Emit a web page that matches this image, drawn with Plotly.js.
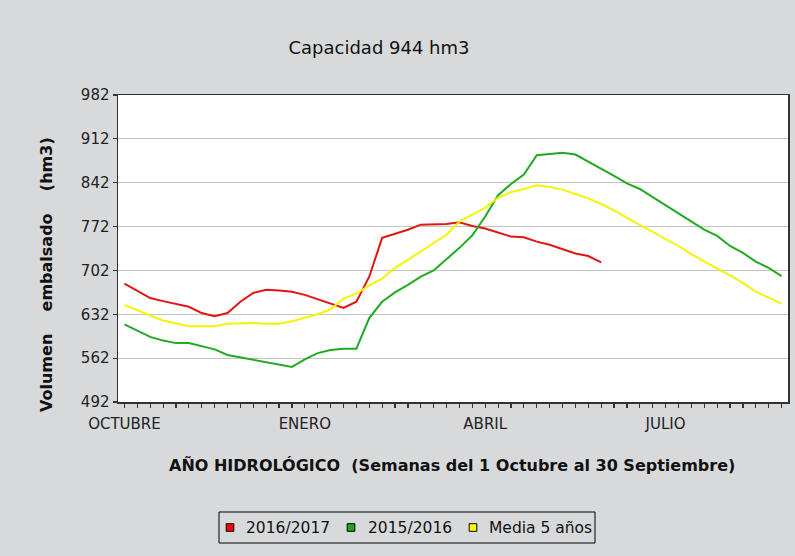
<!DOCTYPE html>
<html>
<head>
<meta charset="utf-8">
<script src="https://cdn.plot.ly/plotly-3.0.1.min.js"></script>
<style>
  html, body { margin: 0; padding: 0; background: #d8d9db; }
  #chart { width: 795px; height: 556px; }
</style>
</head>
<body>
<div id="chart"></div>
<script>
// Week numbers of the hydrological year (1 Oct - 30 Sep)
const semanas = [1,2,3,4,5,6,7,8,9,10,11,12,13,14,15,16,17,18,19,20,21,22,23,24,25,26,
                 27,28,29,30,31,32,33,34,35,36,37,38,39,40,41,42,43,44,45,46,47,48,49,50,51,52];

const serie2016_2017 = [681,669,658,653,648,644,634,629,634,652,666,671,670,668,663,656,650,642,652,692,
                        754,760,767,775,775,776,779,773,769,762,756,755,748,743,736,729,725,715];

const serie2015_2016 = [616,606,596,590,586,586,581,576,567,563,560,555,551,548,560,570,575,577,577,626,
                        652,667,679,692,702,720,738,758,788,822,840,855,886,888,890,887,876,865,853,841,
                        832,819,806,794,780,767,757,741,730,716,706,693];

const media5 = [647,638,630,622,617,613,613,613,617,618,618,617,617,621,627,632,640,657,665,678,
                689,706,719,732,745,759,780,791,802,818,827,832,838,835,831,824,817,808,798,786,
                775,763,752,741,728,716,705,694,682,668,658,649];

const mesLabels = ["OCTUBRE","ENERO","ABRIL","JULIO"];
const mesSemanas = [1,15,29,43];

const yTicks = [492,562,632,702,772,842,912,982];

const seriesNames = ["2016/2017","2015/2016","Media 5 años"];
const seriesColors = ["#e31414","#22aa22","#f4f400"];
const legendColors = ["#ff0000","#1aaa1a","#ffff00"];

const tickText = semanas.map(w => {
  const k = mesSemanas.indexOf(w);
  return k >= 0 ? mesLabels[k] : "";
});

const dataSeries = [serie2016_2017, serie2015_2016, media5];
const traces = dataSeries.map((vals, i) => ({
  x: semanas.slice(0, vals.length),
  y: vals,
  type: "scatter",
  mode: "lines",
  name: seriesNames[i],
  line: { color: seriesColors[i], width: 2 },
  showlegend: false
}));

const L = 118, R = 7, T = 95, B = 154;
const W = 795, H = 556;
const pw = W - L - R, ph = H - T - B;
const px2x = p => (p - L) / pw;
const px2y = p => (H - B - p) / ph;

const font = "DejaVu Sans, Verdana, sans-serif";

// Manual legend (box, square swatches, labels)
const legBox = { x0: 219, x1: 595, y0: 512, y1: 543 };
const legSquareX = [230, 351, 473];
const legTextX = [245, 367, 488];
const legY = 527.5;
const sq = 3.8;

const shapes = [{
  type: "rect", xref: "paper", yref: "paper",
  x0: px2x(legBox.x0), x1: px2x(legBox.x1),
  y0: px2y(legBox.y0), y1: px2y(legBox.y1),
  line: { color: "#000", width: 1 }, fillcolor: "rgba(0,0,0,0)", layer: "above"
}];
seriesNames.forEach((n, i) => {
  shapes.push({
    type: "rect", xref: "paper", yref: "paper",
    x0: px2x(legSquareX[i] - sq), x1: px2x(legSquareX[i] + sq),
    y0: px2y(legY - sq), y1: px2y(legY + sq),
    line: { color: "#000", width: 1 }, fillcolor: legendColors[i], layer: "above"
  });
});

const annotations = [
  {
    text: "<b>Volumen\u00a0\u00a0\u00a0\u00a0embalsado\u00a0\u00a0\u00a0\u00a0(hm3)</b>",
    xref: "paper", yref: "paper",
    x: px2x(46), y: px2y(275),
    xanchor: "center", yanchor: "middle",
    textangle: -90, showarrow: false,
    font: { family: font, size: 16, color: "#111" }
  },
  {
    text: "<b>AÑO HIDROLÓGICO\u00a0\u00a0(Semanas del 1 Octubre al 30 Septiembre)</b>",
    xref: "paper", yref: "paper",
    x: px2x(452), y: px2y(465),
    xanchor: "center", yanchor: "middle",
    showarrow: false,
    font: { family: font, size: 16, color: "#111" }
  }
];
seriesNames.forEach((n, i) => {
  annotations.push({
    text: n, xref: "paper", yref: "paper",
    x: px2x(legTextX[i] - 1), y: px2y(legY),
    xanchor: "left", yanchor: "middle", showarrow: false,
    font: { family: font, size: 15.5, color: "#111" }
  });
});

const layout = {
  width: W, height: H,
  margin: { l: L, r: R, t: T, b: B, pad: 0 },
  paper_bgcolor: "#d8d9db",
  plot_bgcolor: "#ffffff",
  font: { family: font, color: "#222", size: 14 },
  title: {
    text: "Capacidad 944 hm3",
    font: { family: font, size: 18, color: "#111" },
    x: 379 / W, xanchor: "center",
    y: 1 - 48 / H, yanchor: "middle",
    xref: "container", yref: "container"
  },
  xaxis: {
    range: [0.5, 52.5],
    tickmode: "array",
    tickvals: semanas,
    ticktext: tickText,
    ticks: "outside", ticklen: 4, tickwidth: 1.2, tickcolor: "#333",
    ticklabelstandoff: 3,
    tickfont: { family: font, size: 15, color: "#222" },
    showgrid: false, zeroline: false,
    showline: true, linecolor: "#333", linewidth: 1.5, mirror: true,
    fixedrange: true
  },
  yaxis: {
    range: [492, 982],
    tickmode: "array",
    tickvals: yTicks,
    ticktext: yTicks.map(String),
    ticks: "outside", ticklen: 4, tickwidth: 1.2, tickcolor: "#333",
    tickfont: { family: font, size: 15, color: "#222" },
    showgrid: true, gridcolor: "#c4c4c4", gridwidth: 1,
    zeroline: false,
    showline: true, linecolor: "#333", linewidth: 1.5, mirror: true,
    fixedrange: true
  },
  shapes: shapes,
  annotations: annotations,
  showlegend: false
};

Plotly.newPlot("chart", traces, layout, { displayModeBar: false, staticPlot: true });
</script>
</body>
</html>
